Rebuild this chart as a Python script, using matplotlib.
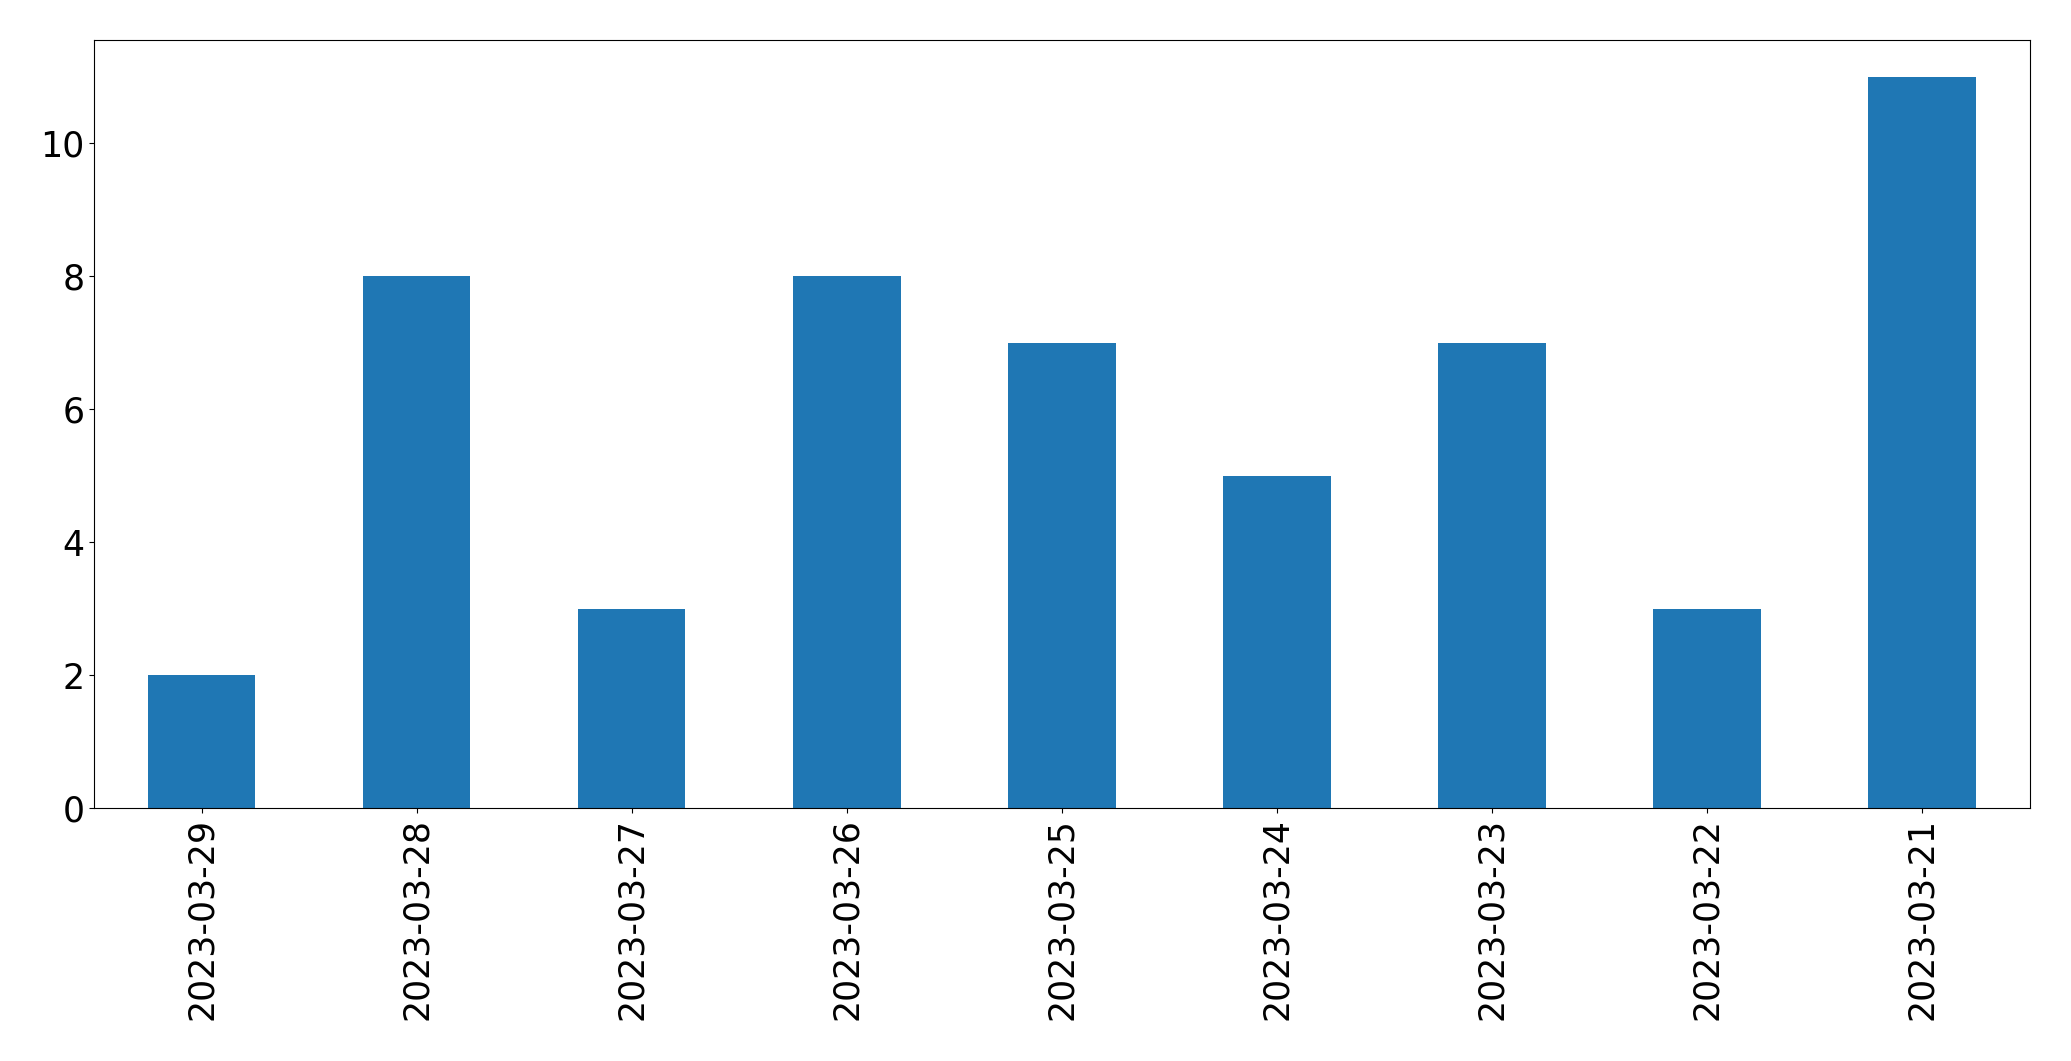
import matplotlib
matplotlib.use("Agg")
import matplotlib.pyplot as plt
import pandas as pd

dates = [
    "2023-03-29", "2023-03-28", "2023-03-27", "2023-03-26", "2023-03-25",
    "2023-03-24", "2023-03-23", "2023-03-22", "2023-03-21",
]
counts = [2, 8, 3, 8, 7, 5, 7, 3, 11]

series = pd.Series(counts, index=dates)

fig = plt.figure(figsize=(20.71, 10.61), dpi=100)
ax = fig.add_axes([0.0454, 0.2385, 0.9346, 0.7235])
series.plot(kind="bar", ax=ax, color="#1f77b4")
ax.tick_params(axis="both", labelsize=25)
fig.savefig("out.png", dpi=100)
